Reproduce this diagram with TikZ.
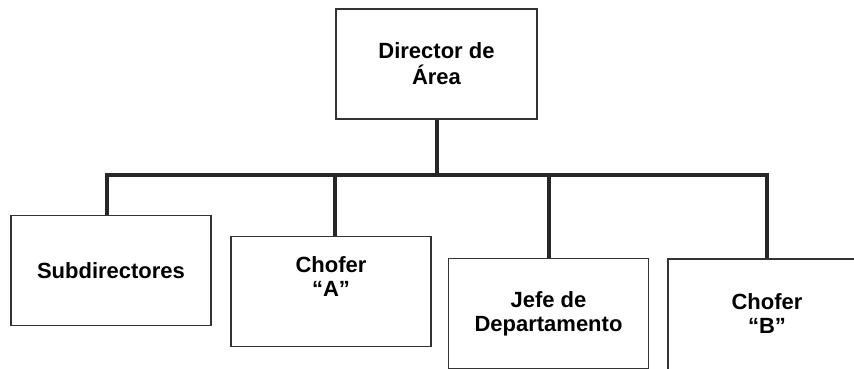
\documentclass[tikz,border=0pt]{standalone}
\usepackage{fontspec}
\setmainfont{Liberation Sans}

\tikzstyle{box}=[
    rectangle,
    line width=1.2pt,
    draw=black!80,
    fill=white,
    minimum width=200pt,
    minimum height=110pt,
    align=center,
    font=\fontsize{22}{24}\selectfont\bfseries
]
\tikzstyle{txt}=[
    align=center,
    font=\fontsize{22}{24}\selectfont\bfseries
]
\tikzstyle{bus}=[
    line width=4pt,
    draw=black!85
]

\begin{document}
\begin{tikzpicture}[x=1pt,y=-1pt]
	\useasboundingbox (0,0) rectangle (854,369);
	\clip (0,0) rectangle (854,369);
	% TOP LAYER
	\node (dir) [box, minimum width=201pt, font=\fontsize{22}{26}\selectfont\bfseries] at (436.5,64) {Director de\\Área};
	% BOTTOM LAYER
	\node (sub) [box] at (111,270.5) {Subdirectores};
	\node (chofA) [box, label={[txt,name=chofA_t,yshift=15pt]center:Chofer\\“A”}] at (331,291.5) {};
	\node (jefe) [box] at (548.5,313.5) {Jefe de\\Departamento};
	\node (chofB) [box, minimum width=210pt, minimum height=130pt,
	  label={[txt,name=chofB_t,xshift=-6pt,yshift=10pt]center:Chofer\\“B”}] at (773,324) {};
	\coordinate (bus) at (0,175);

	% Connections
	\draw[bus] (dir.south) -- (dir.south |- bus);
	\draw[bus] ([xshift=-4pt]sub.north) |- (bus -| chofB_t) -- (chofB_t |- chofB.north);
	\draw[bus] ([xshift=4pt]chofA.north) -- ([xshift=4pt]chofA.north |- bus);
	\draw[bus] (jefe.north) -- (jefe.north |- bus);
\end{tikzpicture}
\end{document}
